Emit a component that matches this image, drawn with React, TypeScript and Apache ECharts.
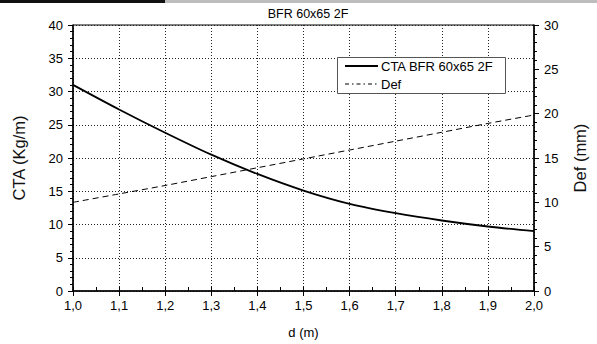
import React, { useEffect, useRef } from "react";
import * as echarts from "echarts";

const title = "BFR 60x65 2F";
const dValues = [1.0, 1.1, 1.2, 1.3, 1.4, 1.5, 1.6, 1.7, 1.8, 1.9, 2.0];
const ctaValues = [31.0, 27.3, 23.8, 20.5, 17.6, 15.1, 13.1, 11.7, 10.6, 9.7, 9.0];
const defValues = [10.0, 10.95, 11.9, 12.9, 13.9, 14.9, 15.9, 16.9, 17.9, 18.9, 19.85];
const ctaName = "CTA BFR 60x65 2F";
const defName = "Def";

const FONT = "Liberation Sans, Arial, sans-serif";

export default function App() {
  const ref = useRef<HTMLDivElement>(null);
  useEffect(() => {
    const chart = echarts.init(ref.current!, null, { renderer: "svg" });
    const ctaData = dValues.map((d, i) => [d, ctaValues[i]]);
    const defData = dValues.map((d, i) => [d, defValues[i]]);
    const gridLeft = 73, gridTop = 25, gridRight = 63, gridBottom = 52;
    chart.setOption({
      animation: false,
      backgroundColor: "#fff",
      textStyle: { fontFamily: FONT },
      title: {
        text: title,
        left: 303,
        textAlign: "center",
        top: 2,
        textStyle: { fontSize: 12.5, fontWeight: "normal", color: "#000", fontFamily: FONT },
      },
      grid: { left: gridLeft, top: gridTop, right: gridRight, bottom: gridBottom, show: true, borderColor: "#000", borderWidth: 1 },
      xAxis: [
        {
          type: "value",
          min: 1,
          max: 2,
          interval: 0.1,
          name: "d (m)",
          nameLocation: "middle",
          nameGap: 35,
          nameTextStyle: { fontSize: 13, color: "#000", fontFamily: FONT },
          axisLine: { lineStyle: { color: "#000", width: 1.5 } },
          axisTick: { show: true, length: 5, lineStyle: { color: "#000" } },
          axisLabel: {
            color: "#000",
            fontSize: 13,
            margin: 8,
            fontFamily: FONT,
            formatter: (v: number) => v.toFixed(1).replace(".", ","),
          },
          splitLine: { show: true, lineStyle: { color: "#222", type: [1, 2], width: 1 } },
        },
        {
          type: "value",
          min: 1,
          max: 2,
          interval: 0.05,
          position: "bottom",
          axisLine: { show: false },
          axisTick: { show: true, inside: true, length: 4, lineStyle: { color: "#000" } },
          axisLabel: { show: false },
          splitLine: { show: false },
        },
      ],
      yAxis: [
        {
          type: "value",
          min: 0,
          max: 40,
          interval: 5,
          name: "CTA (Kg/m)",
          nameLocation: "middle",
          nameGap: 46,
          nameTextStyle: { fontSize: 16.5, color: "#111", fontFamily: FONT },
          axisLine: { show: true, lineStyle: { color: "#000", width: 1.5 } },
          axisTick: { show: true, length: 5, lineStyle: { color: "#000" } },
          minorTick: { show: true, splitNumber: 5, length: 3, lineStyle: { color: "#000" } },
          axisLabel: { color: "#000", fontSize: 13, margin: 10, fontFamily: FONT },
          splitLine: { show: true, lineStyle: { color: "#222", type: [1, 2], width: 1 } },
        },
        {
          type: "value",
          min: 0,
          max: 30,
          interval: 5,
          position: "right",
          name: "Def (mm)",
          nameLocation: "middle",
          nameGap: 37,
          nameTextStyle: { fontSize: 16.5, color: "#111", fontFamily: FONT },
          axisLine: { show: true, lineStyle: { color: "#000", width: 1.5 } },
          axisTick: { show: true, length: 5, lineStyle: { color: "#000" } },
          minorTick: { show: true, splitNumber: 5, length: 3, lineStyle: { color: "#000" } },
          axisLabel: { color: "#000", fontSize: 13, margin: 10, fontFamily: FONT },
          splitLine: { show: false },
        },
      ],
      series: [
        {
          name: ctaName,
          type: "line",
          xAxisIndex: 0,
          yAxisIndex: 0,
          data: ctaData,
          smooth: 0.3,
          showSymbol: false,
          lineStyle: { color: "#000", width: 1.8 },
        },
        {
          name: defName,
          type: "line",
          xAxisIndex: 0,
          yAxisIndex: 1,
          data: defData,
          smooth: 0.3,
          showSymbol: false,
          lineStyle: { color: "#000", width: 1, type: [6, 4] },
        },
      ],
      graphic: [
        { type: "rect", shape: { x: 0, y: 0, width: 165, height: 3 }, style: { fill: "#111" }, silent: true },
        { type: "rect", shape: { x: 165, y: 0, width: 432, height: 3 }, style: { fill: "#bdbdbd" }, silent: true },
        {
          type: "rect",
          shape: { x: 337.5, y: 57.5, width: 168, height: 36 },
          style: { fill: "#fff", stroke: "#555", lineWidth: 1 },
          z: 100,
        },
        {
          type: "line",
          shape: { x1: 345, y1: 66, x2: 378, y2: 66 },
          style: { stroke: "#000", lineWidth: 1.8 },
          z: 101,
        },
        {
          type: "text",
          x: 381,
          y: 66,
          style: { text: ctaName, fontSize: 13, fill: "#000", fontFamily: FONT, verticalAlign: "middle" },
          z: 101,
        },
        {
          type: "line",
          shape: { x1: 345, y1: 84, x2: 378, y2: 84 },
          style: { stroke: "#000", lineWidth: 1, lineDash: [4, 3, 1.5, 3] },
          z: 101,
        },
        {
          type: "text",
          x: 381,
          y: 84,
          style: { text: defName, fontSize: 13, fill: "#000", fontFamily: FONT, verticalAlign: "middle" },
          z: 101,
        },
      ],
    });
    return () => chart.dispose();
  }, []);
  return (
    <div
      ref={ref}
      style={{ position: "fixed", left: 0, top: 0, width: 597, height: 344 }}
    />
  );
}
